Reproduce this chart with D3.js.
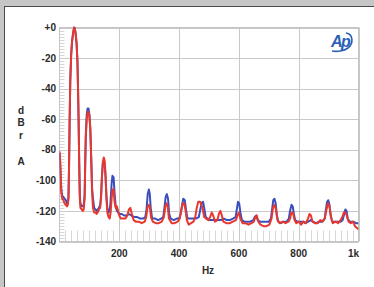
<!DOCTYPE html>
<html>
<head>
<meta charset="utf-8">
<script src="https://cdn.jsdelivr.net/npm/d3@7"></script>
<style>
  html, body { margin: 0; padding: 0; background: #c6c6c6; overflow: hidden; }
  svg { display: block; }
</style>
</head>
<body>
<svg id="chart" width="374" height="287"></svg>
<script>
// axis ticks
const xTicks = [200, 400, 600, 800, 1000];
const xTickLabels = ['200', '400', '600', '800', '1k'];
const yTicks = [0, -20, -40, -60, -80, -100, -120, -140];
const yTickLabels = ['+0', '-20', '-40', '-60', '-80', '-100', '-120', '-140'];
const yTitle = ['d', 'B', 'r', 'A'];

// traces, [Hz, dBrA]
const redTrace = [
  [0,-81],[2,-86],[4,-98],[6,-108],[9,-112],[13,-113],[17,-115],[21,-116],[25,-117],[28,-116],
  [30,-112],[32,-90],[34,-60],[36,-35],[39,-18],[42,-9],[46,-3],[49,0],[51,-0.5],[54,-4],
  [57,-10],[60,-22],[62,-40],[64,-62],[66,-90],[68,-112],[70,-118],[74,-119],[78,-120],[81,-119],
  [84,-112],[86,-90],[88,-72],[91,-60],[94,-56],[97,-55],[100,-58],[103,-66],[106,-85],[109,-108],
  [112,-118],[116,-121],[120,-121],[124,-122],[128,-121],[132,-119],[136,-118],[139,-112],[142,-98],[145,-88],
  [148,-85],[151,-87],[154,-96],[157,-112],[160,-121],[164,-124],[168,-125],[171,-121],[174,-113],[177,-106],
  [181,-106],[184,-114],[188,-118],[192,-117],[196,-120],[200,-123],[205,-125],[212,-125],[220,-125],[227,-123],
  [232,-119],[237,-118],[242,-122],[248,-126],[255,-127],[265,-127],[275,-128],[285,-127],[290,-124],[294,-118],
  [298,-116],[302,-117],[306,-124],[312,-127],[322,-128],[332,-128],[342,-127],[349,-124],[354,-117],[358,-115],
  [362,-117],[366,-125],[375,-128],[385,-128],[395,-127],[402,-125],[407,-120],[412,-115],[417,-115],[421,-119],
  [426,-126],[432,-129],[440,-128],[448,-127],[454,-124],[459,-118],[464,-114],[470,-114],[475,-116],[479,-119],
  [484,-124],[490,-125],[498,-126],[504,-124],[509,-121],[514,-123],[520,-127],[528,-126],[533,-122],[538,-120],
  [543,-123],[548,-127],[558,-128],[570,-128],[580,-127],[590,-126],[595,-123],[600,-121],[605,-125],[612,-128],
  [622,-128],[632,-129],[642,-128],[650,-127],[655,-124],[660,-123],[665,-127],[672,-129],[682,-130],[692,-130],
  [702,-129],[709,-125],[714,-118],[719,-116],[724,-119],[729,-126],[736,-128],[746,-127],[756,-128],[766,-127],
  [771,-125],[776,-121],[781,-121],[786,-126],[792,-128],[800,-127],[808,-129],[816,-127],[824,-128],[831,-125],
  [836,-122],[841,-123],[846,-127],[854,-128],[864,-128],[872,-126],[880,-127],[887,-125],[893,-119],[898,-115],
  [903,-117],[908,-124],[914,-128],[924,-127],[932,-128],[940,-126],[946,-124],[951,-121],[957,-121],[962,-124],
  [967,-127],[974,-128],[982,-127],[988,-130],[994,-131],[1000,-132]
];

const blueTrace = [
  [0,-82],[2,-88],[4,-97],[6,-106],[9,-110],[13,-111],[17,-112],[21,-113],[25,-115],[28,-114],
  [30,-111],[32,-90],[34,-60],[36,-35],[39,-18],[42,-9],[46,-3],[49,0],[51,-0.5],[54,-4],
  [57,-10],[60,-22],[62,-40],[64,-62],[66,-90],[68,-110],[70,-115],[74,-117],[78,-117],[81,-116],
  [84,-110],[86,-88],[88,-70],[91,-57],[94,-53],[97,-53],[100,-57],[103,-66],[106,-85],[109,-105],
  [112,-112],[116,-118],[120,-119],[124,-120],[128,-119],[132,-118],[136,-116],[139,-110],[142,-97],[145,-89],
  [148,-88],[151,-89],[154,-98],[157,-110],[160,-118],[164,-121],[168,-120],[171,-113],[174,-103],[177,-97],
  [181,-98],[184,-108],[188,-117],[192,-120],[196,-121],[200,-122],[208,-122],[216,-123],[224,-123],[232,-122],
  [240,-123],[250,-124],[260,-124],[270,-125],[280,-125],[287,-124],[291,-119],[295,-109],[299,-106],[302,-109],
  [305,-118],[310,-125],[320,-125],[330,-126],[340,-125],[347,-124],[351,-118],[355,-111],[359,-109],[363,-112],
  [367,-122],[372,-125],[382,-126],[392,-125],[400,-125],[405,-122],[410,-116],[414,-112],[419,-113],[423,-119],
  [428,-125],[436,-125],[446,-125],[456,-125],[466,-124],[471,-119],[475,-115],[480,-114],[484,-118],[489,-124],
  [500,-126],[510,-126],[520,-126],[530,-126],[540,-126],[550,-125],[560,-126],[570,-126],[580,-125],[589,-124],
  [593,-119],[597,-114],[601,-115],[605,-121],[610,-126],[618,-127],[628,-127],[638,-127],[648,-126],[653,-124],
  [658,-123],[663,-126],[670,-127],[680,-127],[690,-127],[700,-127],[707,-125],[711,-119],[715,-113],[719,-112],
  [723,-115],[727,-123],[732,-127],[740,-128],[750,-127],[760,-127],[767,-125],[771,-120],[776,-116],[780,-117],
  [784,-122],[788,-126],[795,-127],[805,-127],[815,-127],[822,-128],[832,-127],[840,-126],[848,-127],[858,-128],
  [868,-127],[878,-127],[887,-125],[891,-119],[895,-114],[899,-113],[903,-116],[907,-123],[912,-127],[920,-127],
  [930,-127],[940,-127],[947,-126],[952,-122],[956,-119],[960,-120],[964,-125],[970,-127],[982,-127],[992,-128],
  [1000,-128]
];

const svg = d3.select('#chart');
const plot = { left: 59.5, right: 358.5, top: 27.5, bottom: 241.5 };

const x = d3.scaleLinear().domain([0, 1000]).range([plot.left, plot.right]);
const y = d3.scaleLinear().domain([-140, 0]).range([plot.bottom, plot.top]);

// white panel with dark frame line (only top and left edges fall inside the view)
svg.append('rect')
  .attr('x', 4.5).attr('y', 6.5)
  .attr('width', 420).attr('height', 340)
  .attr('fill', '#ffffff')
  .attr('stroke', '#4a4a4a')
  .attr('stroke-width', 1);

const defs = svg.append('defs');
defs.append('clipPath').attr('id', 'plot-clip')
  .append('rect')
  .attr('x', plot.left).attr('y', plot.top - 2)
  .attr('width', plot.right - plot.left).attr('height', plot.bottom - plot.top + 2);

// minor ticks
const minorY = d3.range(-140, 0, 2);
svg.append('g').selectAll('line')
  .data(minorY)
  .join('line')
  .attr('x1', plot.left).attr('x2', plot.left + 5)
  .attr('y1', d => Math.round(y(d)) + 0.5).attr('y2', d => Math.round(y(d)) + 0.5)
  .attr('stroke', '#d6d6d6').attr('stroke-width', 1);

const minorX = d3.range(20, 1000, 20);
svg.append('g').selectAll('line')
  .data(minorX)
  .join('line')
  .attr('x1', d => Math.round(x(d)) + 0.5).attr('x2', d => Math.round(x(d)) + 0.5)
  .attr('y1', plot.bottom - 11).attr('y2', plot.bottom)
  .attr('stroke', '#d6d6d6').attr('stroke-width', 1);

// grid
svg.append('g').selectAll('line')
  .data(xTicks)
  .join('line')
  .attr('x1', d => Math.round(x(d)) + 0.5).attr('x2', d => Math.round(x(d)) + 0.5)
  .attr('y1', plot.top).attr('y2', plot.bottom)
  .attr('stroke', '#c9c9c9');

svg.append('g').selectAll('line')
  .data(yTicks)
  .join('line')
  .attr('x1', plot.left).attr('x2', plot.right)
  .attr('y1', d => Math.round(y(d)) + 0.5).attr('y2', d => Math.round(y(d)) + 0.5)
  .attr('stroke', '#c9c9c9');

svg.append('rect')
  .attr('x', plot.left).attr('y', plot.top)
  .attr('width', plot.right - plot.left).attr('height', plot.bottom - plot.top)
  .attr('fill', 'none').attr('stroke', '#c4c4c4');

// tick labels
svg.append('g').selectAll('text')
  .data(yTicks)
  .join('text')
  .attr('x', 56).attr('y', d => y(d))
  .attr('dy', '0.36em')
  .attr('text-anchor', 'end')
  .attr('font-family', 'Liberation Sans, Arial, sans-serif')
  .attr('font-size', 10).attr('font-weight', 'bold')
  .attr('fill', '#2a2a2a')
  .text((d, i) => yTickLabels[i]);

svg.append('g').selectAll('text')
  .data(xTicks)
  .join('text')
  .attr('x', d => x(d) - (d === 1000 ? 5 : 0)).attr('y', 257)
  .attr('text-anchor', 'middle')
  .attr('font-family', 'Liberation Sans, Arial, sans-serif')
  .attr('font-size', 10).attr('font-weight', 'bold')
  .attr('fill', '#2a2a2a')
  .text((d, i) => xTickLabels[i]);

svg.append('text')
  .attr('x', 208).attr('y', 274)
  .attr('text-anchor', 'middle')
  .attr('font-family', 'Liberation Sans, Arial, sans-serif')
  .attr('font-size', 10).attr('font-weight', 'bold')
  .attr('fill', '#2a2a2a')
  .text('Hz');

// stacked y title
const titleY = [110, 122, 135, 161];
svg.append('g').selectAll('text')
  .data(yTitle)
  .join('text')
  .attr('x', 21).attr('y', (d, i) => titleY[i])
  .attr('dy', '0.36em')
  .attr('text-anchor', 'middle')
  .attr('font-family', 'Liberation Sans, Arial, sans-serif')
  .attr('font-size', 10).attr('font-weight', 'bold')
  .attr('fill', '#2a2a2a')
  .text(d => d);

// traces
const line = d3.line()
  .x(d => x(d[0]))
  .y(d => y(d[1]));

const traces = svg.append('g').attr('clip-path', 'url(#plot-clip)');
traces.append('path')
  .datum(blueTrace)
  .attr('d', line)
  .attr('fill', 'none')
  .attr('stroke', '#3a4fbd')
  .attr('stroke-width', 2)
  .attr('stroke-linejoin', 'round');

traces.append('path')
  .datum(redTrace)
  .attr('d', line)
  .attr('fill', 'none')
  .attr('stroke', '#e8372c')
  .attr('stroke-width', 2)
  .attr('stroke-linejoin', 'round');

// Ap logo
const logo = svg.append('g').attr('transform', 'translate(331,47)');
logo.append('text')
  .attr('x', 0).attr('y', 0)
  .attr('font-family', 'Liberation Sans, Arial, sans-serif')
  .attr('font-size', 16).attr('font-style', 'italic').attr('font-weight', 'bold')
  .attr('fill', '#2c5fb6')
  .attr('letter-spacing', -1.5)
  .text('Ap');
logo.append('path')
  .attr('d', 'M15,-14 C22,-13 23,-4 17,1 C13,4 6,5 1,4')
  .attr('fill', 'none')
  .attr('stroke', '#2c5fb6')
  .attr('stroke-width', 1.6);
</script>
</body>
</html>
